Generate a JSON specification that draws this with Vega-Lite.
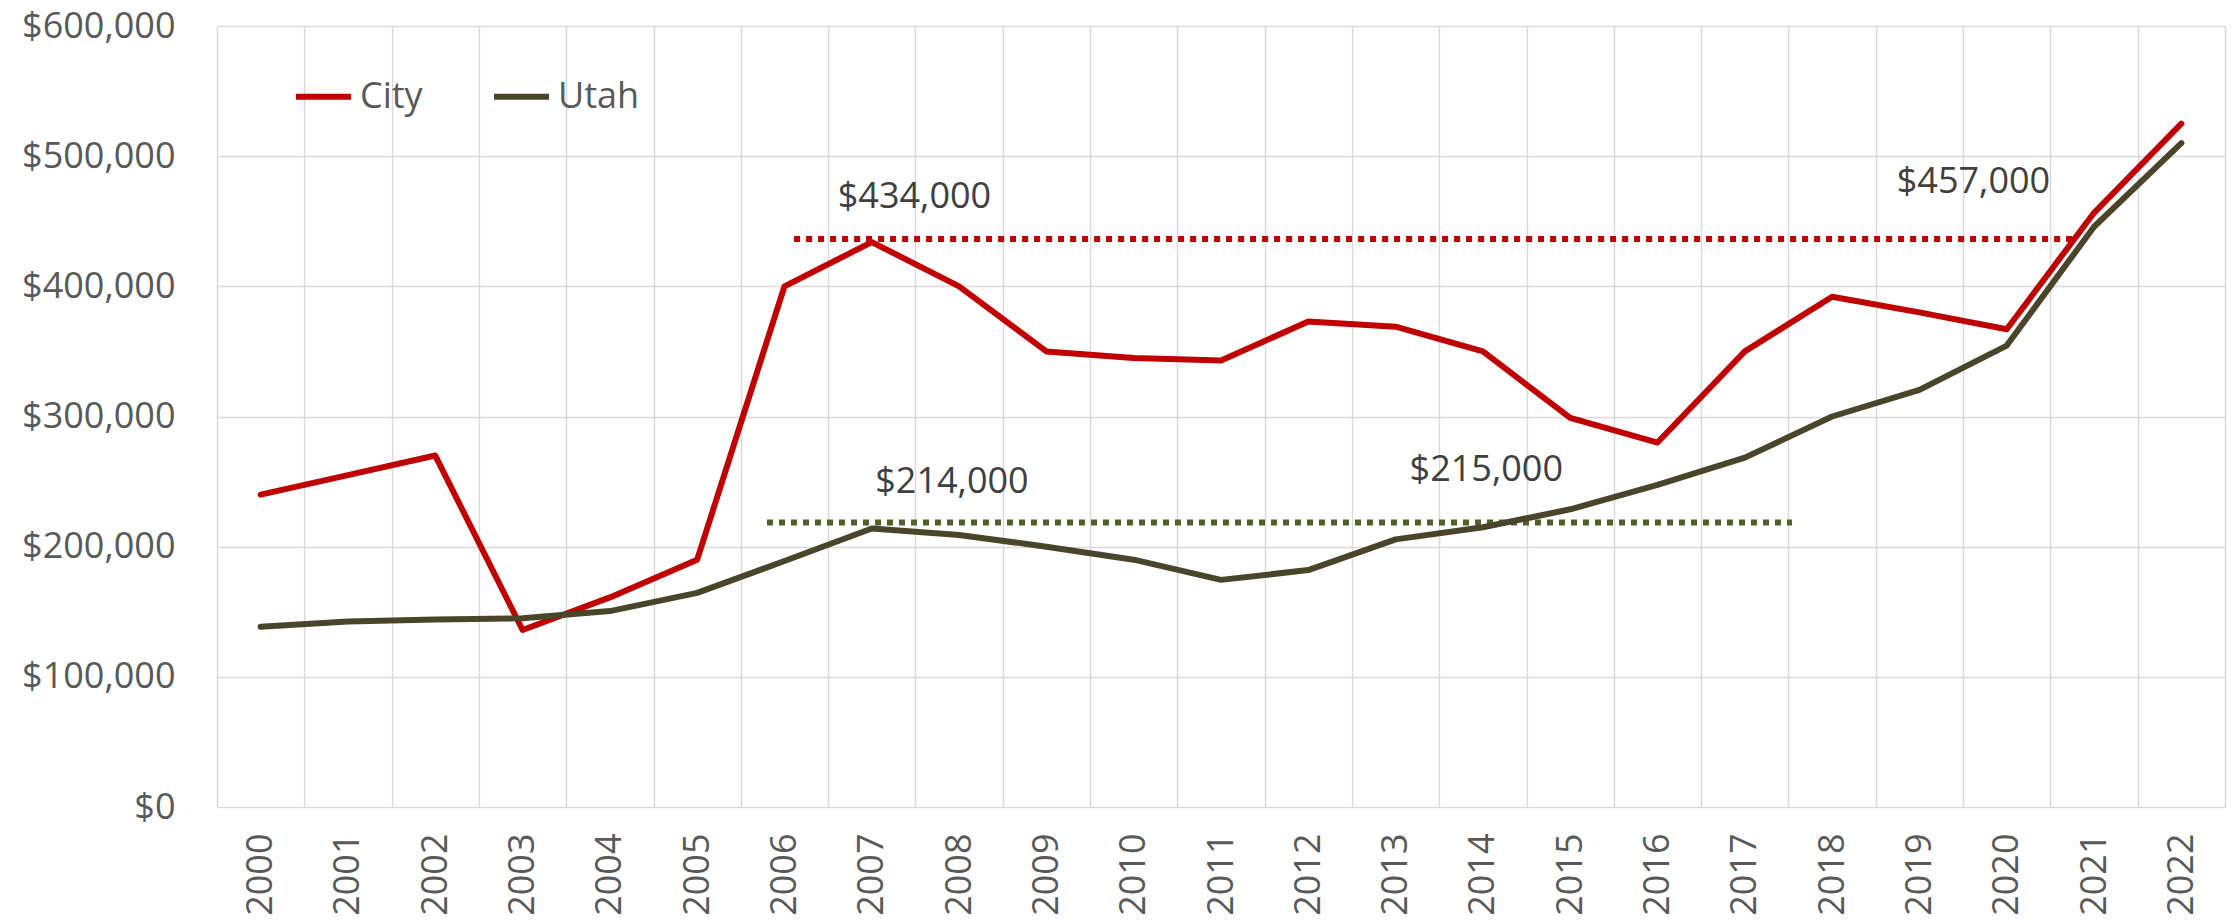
{
  "$schema": "https://vega.github.io/schema/vega-lite/v6.json",
  "width": 2008,
  "height": 781,
  "autosize": {"type": "none"},
  "padding": {"left": 217, "top": 26, "right": 9, "bottom": 116},
  "background": "white",
  "config": {
    "view": {"stroke": null},
    "font": "Open Sans",
    "axis": {"gridColor": "#D9D9D9", "gridWidth": 1.5, "labelColor": "#595959", "labelFontSize": 36, "labelFont": "Open Sans"},
    "legend": {"labelFontSize": 36, "labelColor": "#595959", "labelFont": "Open Sans"}
  },
  "datasets": {
    "series": [
      {"year": 2000, "series": "City", "value": 240000},
      {"year": 2001, "series": "City", "value": 255000},
      {"year": 2002, "series": "City", "value": 270000},
      {"year": 2003, "series": "City", "value": 136000},
      {"year": 2004, "series": "City", "value": 161000},
      {"year": 2005, "series": "City", "value": 190000},
      {"year": 2006, "series": "City", "value": 400000},
      {"year": 2007, "series": "City", "value": 434000},
      {"year": 2008, "series": "City", "value": 400000},
      {"year": 2009, "series": "City", "value": 350000},
      {"year": 2010, "series": "City", "value": 345000},
      {"year": 2011, "series": "City", "value": 343000},
      {"year": 2012, "series": "City", "value": 373000},
      {"year": 2013, "series": "City", "value": 369000},
      {"year": 2014, "series": "City", "value": 350000},
      {"year": 2015, "series": "City", "value": 299000},
      {"year": 2016, "series": "City", "value": 280000},
      {"year": 2017, "series": "City", "value": 350000},
      {"year": 2018, "series": "City", "value": 392000},
      {"year": 2019, "series": "City", "value": 380000},
      {"year": 2020, "series": "City", "value": 367000},
      {"year": 2021, "series": "City", "value": 456500},
      {"year": 2022, "series": "City", "value": 525000},
      {"year": 2000, "series": "Utah", "value": 138500},
      {"year": 2001, "series": "Utah", "value": 142500},
      {"year": 2002, "series": "Utah", "value": 144000},
      {"year": 2003, "series": "Utah", "value": 145000},
      {"year": 2004, "series": "Utah", "value": 150500},
      {"year": 2005, "series": "Utah", "value": 164500},
      {"year": 2006, "series": "Utah", "value": 189000},
      {"year": 2007, "series": "Utah", "value": 214000},
      {"year": 2008, "series": "Utah", "value": 209000},
      {"year": 2009, "series": "Utah", "value": 200000},
      {"year": 2010, "series": "Utah", "value": 190000},
      {"year": 2011, "series": "Utah", "value": 174500},
      {"year": 2012, "series": "Utah", "value": 182000},
      {"year": 2013, "series": "Utah", "value": 205600},
      {"year": 2014, "series": "Utah", "value": 214900},
      {"year": 2015, "series": "Utah", "value": 228700},
      {"year": 2016, "series": "Utah", "value": 247400},
      {"year": 2017, "series": "Utah", "value": 268400},
      {"year": 2018, "series": "Utah", "value": 300000},
      {"year": 2019, "series": "Utah", "value": 320500},
      {"year": 2020, "series": "Utah", "value": 354500},
      {"year": 2021, "series": "Utah", "value": 445800},
      {"year": 2022, "series": "Utah", "value": 510000}
    ],
    "refs": [
      {"series": "City", "start": 2006.11, "end": 2020.76, "value": 436400},
      {"series": "Utah", "start": 2005.8, "end": 2017.54, "value": 218500}
    ],
    "notes": [
      {"label": "$434,000", "year": 2006.61, "value": 460000},
      {"label": "$214,000", "year": 2007.04, "value": 241000},
      {"label": "$457,000", "year": 2018.74, "value": 471700},
      {"label": "$215,000", "year": 2013.16, "value": 250400}
    ]
  },
  "layer": [
    {
      "data": {"name": "refs"},
      "transform": [{"filter": "datum.series === 'City'"}],
      "mark": {"type": "rule", "stroke": "#C00000", "strokeWidth": 6, "strokeDash": [6, 6], "strokeCap": "butt"},
      "encoding": {
        "x": {"field": "start", "type": "quantitative", "scale": {"domain": [1999.5, 2022.5], "nice": false, "zero": false},
          "axis": {"orient": "top", "values": [1999.5, 2000.5, 2001.5, 2002.5, 2003.5, 2004.5, 2005.5, 2006.5, 2007.5, 2008.5, 2009.5, 2010.5, 2011.5, 2012.5, 2013.5, 2014.5, 2015.5, 2016.5, 2017.5, 2018.5, 2019.5, 2020.5, 2021.5, 2022.5],
            "grid": true, "labels": false, "ticks": false, "domain": false, "title": null}},
        "x2": {"field": "end"},
        "y": {"field": "value", "type": "quantitative", "scale": {"domain": [0, 600000], "nice": false},
          "axis": {"values": [0, 100000, 200000, 300000, 400000, 500000, 600000], "format": "$,.0f", "ticks": false, "domain": false, "labelPadding": 42, "title": null, "grid": true}}
      }
    },
    {
      "data": {"name": "refs"},
      "transform": [{"filter": "datum.series === 'Utah'"}],
      "mark": {"type": "rule", "stroke": "#4F6228", "strokeWidth": 6, "strokeDash": [6, 6], "strokeCap": "butt"},
      "encoding": {
        "x": {"field": "start", "type": "quantitative", "axis": null},
        "x2": {"field": "end"},
        "y": {"field": "value", "type": "quantitative"}
      }
    },
    {
      "data": {"name": "series"},
      "mark": {"type": "line", "strokeWidth": 6, "strokeCap": "round", "strokeJoin": "round"},
      "encoding": {
        "x": {"field": "year", "type": "quantitative",
          "axis": {"orient": "bottom", "values": [2000, 2001, 2002, 2003, 2004, 2005, 2006, 2007, 2008, 2009, 2010, 2011, 2012, 2013, 2014, 2015, 2016, 2017, 2018, 2019, 2020, 2021, 2022],
            "format": "d", "labelAngle": -90, "labelPadding": 26, "ticks": false, "domain": false, "grid": false, "title": null, "labelFlush": false, "labelOverlap": false}},
        "y": {"field": "value", "type": "quantitative"},
        "color": {"field": "series", "type": "nominal",
          "scale": {"domain": ["City", "Utah"], "range": ["#C00000", "#4A452A"]},
          "legend": {"title": null, "orient": "none", "legendX": 76, "legendY": 40, "direction": "horizontal",
            "symbolType": "stroke", "symbolSize": 3025, "symbolStrokeWidth": 6, "labelOffset": 6, "columnPadding": 59, "symbolOffset": 0, "padding": 0}}
      }
    },
    {
      "data": {"name": "notes"},
      "mark": {"type": "text", "align": "left", "baseline": "alphabetic", "fontSize": 36, "font": "Open Sans", "color": "#404040"},
      "encoding": {
        "x": {"field": "year", "type": "quantitative", "axis": null},
        "y": {"field": "value", "type": "quantitative"},
        "text": {"field": "label"}
      }
    }
  ],
  "resolve": {"axis": {"x": "independent"}}
}
